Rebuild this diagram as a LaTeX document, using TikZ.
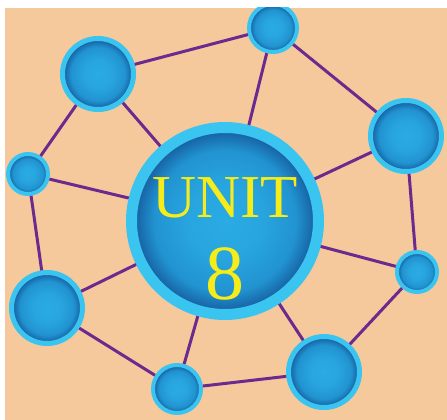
\documentclass[tikz,border=0pt]{standalone}
\usepackage{fontspec}
\setmainfont{Liberation Serif}
\usepackage{tikz}
\usetikzlibrary{positioning}

\definecolor{peach}{HTML}{F6C99C}
\definecolor{ringblue}{HTML}{3AC4F0}
\definecolor{ballin}{HTML}{2AABE3}
\definecolor{ballmid}{HTML}{2193D0}
\definecolor{ballout}{HTML}{15579A}
\definecolor{linkpurple}{HTML}{6A2A8E}
\definecolor{unityellow}{HTML}{F5EC1A}

\pgfdeclareradialshading{ballshade}{\pgfpoint{0bp}{0bp}}{%
  color(0bp)=(ballin); color(10bp)=(ballin!75!ballmid); color(19bp)=(ballmid); color(25bp)=(ballout); color(50bp)=(ballout)}

\begin{document}
\begin{tikzpicture}[
    x=1pt, y=-1pt,
    ball/.style={circle, draw=ringblue, shading=ballshade, inner sep=0pt},
    hubball/.style={ball, line width=11pt, minimum size=187pt},
    bigball/.style={ball, line width=5pt, minimum size=71pt},
    midball/.style={ball, line width=4pt, minimum size=48pt},
    smallball/.style={ball, line width=4pt, minimum size=40pt},
    link/.style={draw=linkpurple, line width=3pt},
    title/.style={text=unityellow, inner sep=0pt, anchor=base}
]
    \useasboundingbox (0,0) rectangle (447,420);
    \clip (5,8) rectangle (447,420);
    \fill[peach] (5,8) rectangle (447,420);

    % hub
    \node[hubball] (hub) at (225,221) {};

    % outer balls
    \node[bigball] (tl) at (98,74) {};
    \node[midball] (top) at (273,28) {};
    \node[bigball] (rt) at (406,136) {};
    \node[smallball] (ls) at (28,174) {};
    \node[smallball] (rs) at (417,272) {};
    \node[bigball] (bl) at (47,308) {};
    \node[bigball] (bt) at (324,372) {};
    \node[midball] (bs) at (177,389) {};

    % title
    \node[title] (unit) at (225,217) {\fontsize{61}{61}\selectfont UNIT};
    \node[title] (num) at (225,299) {\fontsize{78}{78}\selectfont 8};

    % links
    \draw[link] (tl) -- (top);
    \draw[link] (top) -- (rt);
    \draw[link] (rt) -- (rs);
    \draw[link] (rs) -- (bt);
    \draw[link] (bt) -- (bs);
    \draw[link] (bs) -- (bl);
    \draw[link] (bl) -- (ls);
    \draw[link] (ls) -- (tl);

    \draw[link] (tl) -- (hub);
    \draw[link] (top) -- (hub);
    \draw[link] (rt) -- (hub);
    \draw[link] (rs) -- (hub);
    \draw[link] (bt) -- (hub);
    \draw[link] (bs) -- (hub);
    \draw[link] (bl) -- (hub);
    \draw[link] (ls) -- (hub);
\end{tikzpicture}
\end{document}
